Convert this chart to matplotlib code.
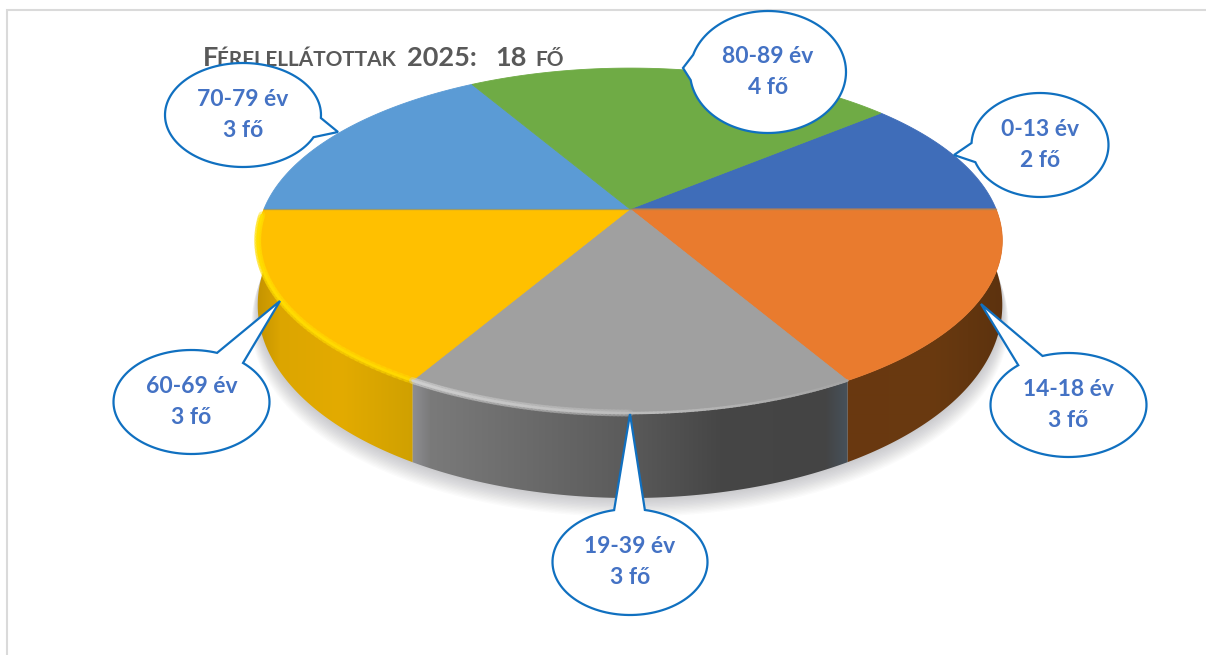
import numpy as np
import matplotlib
matplotlib.use('Agg')
import matplotlib.pyplot as plt
from matplotlib.collections import LineCollection
from matplotlib.patches import Polygon

# adatok: a szeletek sorrendje az oramutato jarasaval, jobb felul kezdve
age_groups = ['0-13 év', '14-18 év', '19-39 év', '60-69 év', '70-79 év', '80-89 év']
counts = [2, 3, 3, 3, 3, 4]
top_colors = ['#3F6DB9', '#E97B2E', '#A0A0A0', '#FFC000', '#5B9BD5', '#6FAB45']

plt.rcParams['font.family'] = ['Lato', 'DejaVu Sans']

W, H = 1206, 655
fig = plt.figure(figsize=(W / 100, H / 100), dpi=100)
ax = fig.add_axes([0, 0, 1, 1])
ax.set_xlim(0, W)
ax.set_ylim(H, 0)
ax.axis('off')


# kor pontjai perspektivaban, a szog fokban
def rim(angle):
    a = np.radians(angle)
    u, v = np.cos(a), np.sin(a)
    w = 1 + 0.183 * v
    return 630 + 366 * u / w, 209 - 166.7 * v / w, v


def lower_rim(angle):
    x, y, v = rim(angle)
    return x, y + 60 - 25 * v


# arnyek a korong alatt
for d in range(1, 15):
    t = np.linspace(8, -188, 160)
    x, y = lower_rim(t)
    cx = 630 + (x - 630) * (1 + d * 0.0012)
    pts = np.column_stack([cx, y + d * 1.35])
    ax.add_patch(Polygon(pts, closed=True, fc='#70707a', ec='none', alpha=0.026, zorder=1))

# szeletek szogei a darabszamokbol
fractions = np.array(counts) / sum(counts)
edges = 40 - np.concatenate([[0], np.cumsum(fractions)]) * 360

# oldalfal szinatmenetek: (x, szin) parok
wall_grads = {
    1: [(848, '#693810'), (930, '#6A3A10'), (1005, '#5C320E')],
    2: [(414, '#8C8C90'), (430, '#7A7A7A'), (520, '#6C6C6C'), (620, '#5C5C5C'),
        (720, '#464646'), (825, '#444444'), (848, '#47525C')],
    3: [(255, '#C29200'), (280, '#DCA500'), (340, '#E3AB00'), (415, '#CFA000')],
}

for i, grad in wall_grads.items():
    t = np.linspace(edges[i], max(edges[i + 1], -180), 80)
    xt, yt, _ = rim(t)
    xb, yb = lower_rim(t)
    poly = Polygon(np.column_stack([np.r_[xt, xb[::-1]], np.r_[yt, yb[::-1]]]),
                   closed=True, fc='none', ec='none', zorder=2)
    ax.add_patch(poly)
    xs = np.arange(240, 1020)
    stops = [p[0] for p in grad]
    rgb = np.array([matplotlib.colors.to_rgb(p[1]) for p in grad])
    img = np.stack([np.interp(xs, stops, rgb[:, c]) for c in range(3)], axis=-1)[None, :, :]
    im = ax.imshow(img, extent=(240, 1020, 510, 200), aspect='auto', zorder=2,
                   interpolation='bilinear')
    im.set_clip_path(poly)
ax.set_xlim(0, W)
ax.set_ylim(H, 0)

# felso lap
for i, col in enumerate(top_colors):
    t = np.linspace(edges[i], edges[i + 1], 120)
    x, y, _ = rim(t)
    pts = np.column_stack([np.r_[630, x], np.r_[209, y]])
    ax.add_patch(Polygon(pts, closed=True, fc=col, ec=col, lw=0.6, zorder=3))


# fenyes perem a felso lap szelen
def highlight(a0, a1, c0, c1, lw):
    t = np.linspace(a0, a1, 60)
    x, y, _ = rim(t)
    pts = np.column_stack([x, y]).reshape(-1, 1, 2)
    segs = np.concatenate([pts[:-1], pts[1:]], axis=1)
    c0 = np.array(matplotlib.colors.to_rgba(c0))
    c1 = np.array(matplotlib.colors.to_rgba(c1))
    cols = [c0 + (c1 - c0) * s for s in np.linspace(0, 1, 59)]
    ax.add_collection(LineCollection(segs, colors=cols, linewidths=lw, zorder=4,
                                     capstyle='round'))


# ket reteg: szelesebb halvany es keskenyebb eros, hogy puhan nezzen ki
highlight(-120, -178, '#FFD80060', '#FFE00070', 5.0)
highlight(-120, -178, '#FFD800', '#FFDF00', 1.8)
highlight(-120, -90, '#D0D0D060', '#B8B8B860', 5.0)
highlight(-120, -90, '#CFCFCF', '#BCBCBC', 1.8)
highlight(-90, -60, '#BCBCBC', '#A4A4A4', 1.8)

# vizszintes atmenet a hatso es elso szeletek kozott
x0, y0, _ = rim(180)
x1, y1, _ = rim(0)
ax.plot([x0, x1], [y0, y1], color='#8A8A70', alpha=0.55, lw=1.0, zorder=4)

# keret
ax.plot([7, 7, W], [H, 10, 10], color='#DADADA', lw=1.5, zorder=0, solid_joinstyle='miter')

# cim kiskapitalissal
title_parts = [('F', 19.5, 203), ('ÉRFI ELLÁTOTTAK', 15, 217), ('2025:', 19.5, 407),
               ('18', 19.5, 495), ('FŐ', 15, 535)]
for part, size, tx in title_parts:
    ax.text(tx, 66, part, fontsize=size, fontweight='bold', color='#595959',
            ha='left', va='baseline', zorder=5)

# buborekok: kozeppont, sugarak, a csucs es a ket talppont
callouts = {
    '0-13 év': ((1040, 145), 68.5, 52, (954, 155), (972, 143), (976, 162)),
    '14-18 év': ((1068.5, 405), 78, 52, (981, 304), (1042, 355), (1018, 365)),
    '19-39 év': ((630, 562), 77.5, 53, (630, 414), (615, 513), (644, 513)),
    '60-69 év': ((191.5, 402), 78, 52, (280, 301), (217, 353), (243, 363)),
    '70-79 év': ((243, 115), 78, 52, (338, 132), (321, 118), (313, 137)),
    '80-89 év': ((768, 72), 78, 61, (683, 68), (694, 55), (692, 80)),
}

for label, n in zip(age_groups, counts):
    (cx, cy), rx, ry, tip, b0, b1 = callouts[label]
    a0 = np.arctan2((b0[1] - cy) / ry, (b0[0] - cx) / rx)
    a1 = np.arctan2((b1[1] - cy) / ry, (b1[0] - cx) / rx)
    # mindig a hosszabb ivet rajzoljuk, a rovid resz helyen van a csucs
    a1 = a0 + (a1 - a0) % (2 * np.pi)
    if a1 - a0 > np.pi:
        t = np.linspace(a0, a1, 120)
    else:
        t = np.linspace(a1, a0 + 2 * np.pi, 120)
    px = cx + rx * np.cos(t)
    py = cy + ry * np.sin(t)
    pts = np.column_stack([np.r_[px, tip[0]], np.r_[py, tip[1]]])
    ax.add_patch(Polygon(pts, closed=True, fc='white', ec='#1070C0', lw=1.6, zorder=6,
                         joinstyle='miter'))
    ax.text(cx, cy, f'{label}\n{n} fő', fontsize=16.5, fontweight='bold', color='#4472C4',
            ha='center', va='center', linespacing=1.62, zorder=7)

fig.savefig('out.png', dpi=100, facecolor='white')
